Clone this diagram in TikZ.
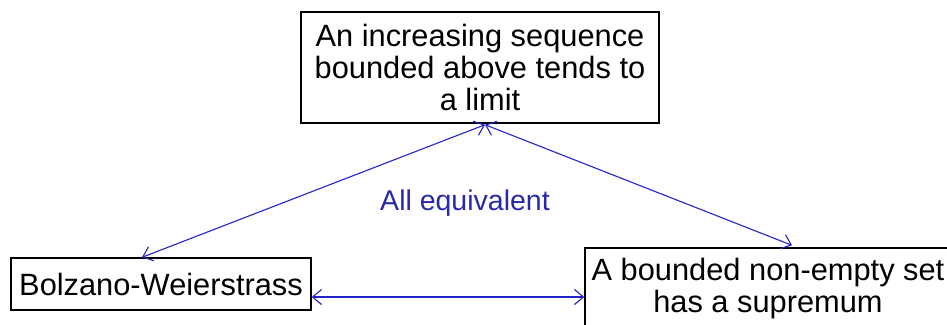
\documentclass[tikz,border=0pt]{standalone}
\usepackage{fontspec}
\setmainfont{Liberation Sans}
\usetikzlibrary{arrows.meta}
\definecolor{linkblue}{RGB}{35,35,200}
\definecolor{labelblue}{RGB}{40,40,170}
\tikzset{
  box/.style={draw=black, line width=1.4pt, rectangle, inner sep=0pt, align=center,
    font=\fontsize{30.8}{32}\selectfont},
  link/.style={draw=linkblue, line width=1.1pt,
    {Straight Barb[length=9pt,width=15pt]}-{Straight Barb[length=9pt,width=15pt]}},
  lbl/.style={text=labelblue, font=\fontsize{28.5}{30}\selectfont, inner sep=0pt}
}
\begin{document}
\begin{tikzpicture}[x=1pt,y=-1pt]
\useasboundingbox (0,0) rectangle (947,324);
\node[box, minimum width=358pt, minimum height=111pt] (top) at (480,67.5)
  {\raisebox{-3pt}{\parbox{358pt}{\centering An increasing sequence\\bounded above tends to\\a limit}}};
\node[box, minimum width=300pt, minimum height=52pt] (bw) at (161,284)
  {Bolzano-Weierstrass};
\node[box, minimum width=366pt, minimum height=82pt] (br) at (768,289)
  {A bounded non-empty set\\has a supremum};
\node[lbl] (eq) at (465,203) {All equivalent};
\coordinate (tj) at ([xshift=5pt,yshift=-1pt]top.south);
\coordinate (bwtop) at ([xshift=-19pt]bw.north);
\coordinate (brtop) at ([xshift=24pt,yshift=2pt]br.north);
\coordinate (bwe) at ([yshift=-13pt]bw.east);
\draw[link] (tj) -- (bwtop);
\draw[link] (tj) -- (brtop);
\draw[link] (bwe) -- (bwe -| br.west);
\end{tikzpicture}
\end{document}
